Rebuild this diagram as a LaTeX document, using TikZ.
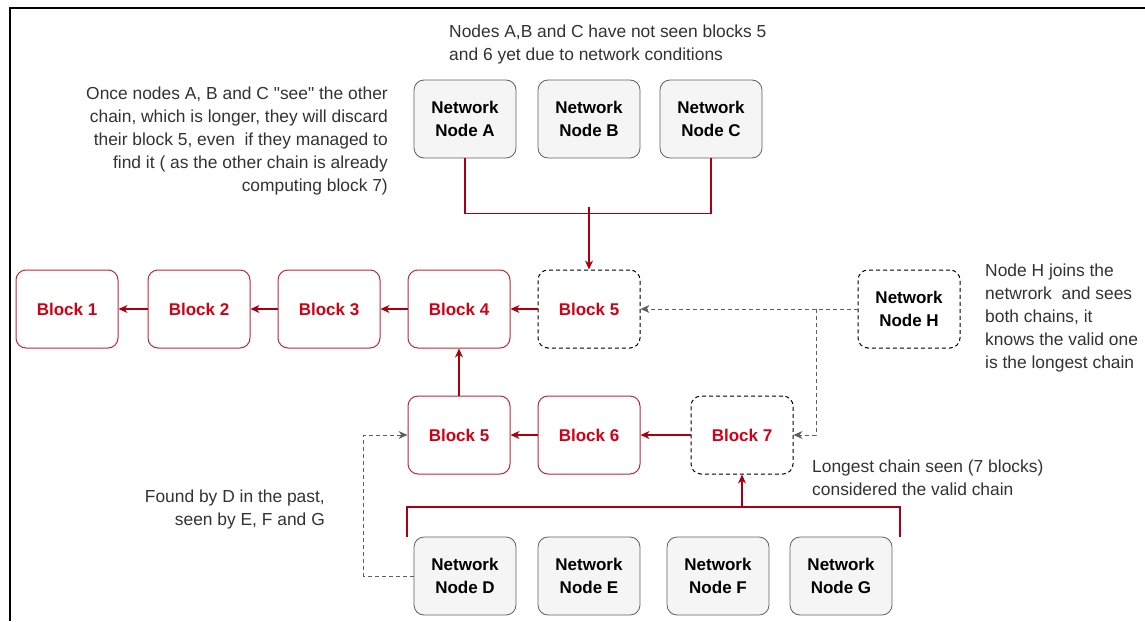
\documentclass[tikz,border=0pt]{standalone}
\usepackage{fontspec}
\setmainfont{Liberation Sans}
\usetikzlibrary{arrows.meta}
\definecolor{chainred}{RGB}{210,0,20}
\definecolor{boxred}{RGB}{190,40,55}
\definecolor{nodegray}{RGB}{245,245,245}
\definecolor{edgegray}{RGB}{95,95,95}
\definecolor{notegray}{RGB}{50,50,50}

\begin{document}
\begin{tikzpicture}[
        x=1pt, y=-1pt,
        cell/.style={rounded corners=10pt, minimum width=102pt, minimum height=78pt, align=center, inner sep=2pt, font=\fontsize{17}{23}\selectfont\bfseries},
        netnode/.style={cell, draw=edgegray, fill=nodegray, text=black, line width=0.8pt},
        block/.style={cell, draw=boxred, fill=white, text=chainred, line width=1pt},
        pending/.style={cell, draw=black, dash pattern=on 4pt off 3pt, line width=1pt, fill=white},
        note/.style={inner sep=0pt, text=notegray, font=\fontsize{17.4}{23}\selectfont},
        wire/.style={draw=chainred!80!black, line width=1.3pt},
        link/.style={wire, -{Stealth[length=9pt,width=8pt]}},
        ghost/.style={draw=edgegray, dash pattern=on 4pt off 3pt, line width=1pt, -{Stealth[length=9pt,width=8pt]}}
    ]
        \useasboundingbox (0,0) rectangle (1145,621);
        \draw[line width=1.5pt] (10,621) -- (10,8) -- (1145,8);

        % Nodes that have not seen the long chain
        \node[netnode] (nodeA) at (465,119) {Network\\Node A};
        \node[netnode] (nodeB) at (589,119) {Network\\Node B};
        \node[netnode] (nodeC) at (711,119) {Network\\Node C};

        % Short chain
        \node[block] (blk1) at (67,309) {Block 1};
        \node[block] (blk2) at (199,309) {Block 2};
        \node[block] (blk3) at (329,309) {Block 3};
        \node[block] (blk4) at (459,309) {Block 4};
        \node[pending, text=chainred] (blk5a) at (589,309) {Block 5};
        \node[pending, text=black] (nodeH) at (909,309) {Network\\Node H};

        % Long chain
        \node[block] (blk5b) at (459,435) {Block 5};
        \node[block] (blk6) at (589,435) {Block 6};
        \node[pending, text=chainred] (blk7) at (742,435) {Block 7};

        % Nodes that have seen the long chain
        \node[netnode] (nodeD) at (465,576) {Network\\Node D};
        \node[netnode] (nodeE) at (589,576) {Network\\Node E};
        \node[netnode] (nodeF) at (718,576) {Network\\Node F};
        \node[netnode] (nodeG) at (841,576) {Network\\Node G};

        % Notes
        \node[note, anchor=north west, align=left] (noteABC) at (449,25) {Nodes A,B and C have not seen blocks 5\\and 6 yet due to network conditions};
        \node[note, anchor=north east, align=right] (noteDiscard) at (388,87) {Once nodes A, B and C \textquotedbl see\textquotedbl\ the other\\chain, which is longer, they will discard\\their block 5, even\ \ if they managed to\\find it ( as the other chain is already\\computing block 7)};
        \node[note, anchor=north west, align=left] (noteH) at (985,264) {Node H joins the\\netwrork\ \ and sees\\both chains, it\\knows the valid one\\is the longest chain};
        \node[note, anchor=north west, align=left] (noteLong) at (812,460) {Longest chain seen (7 blocks)\\considered the valid chain};
        \node[note, anchor=north east, align=right] (noteFound) at (325,490) {Found by D in the past,\\seen by E, F and G};

        % Transitions
        \coordinate (abcjoin) at (589,207);
        \coordinate (hsplit) at (816,309);
        \coordinate (barL) at (407,507);
        \coordinate (barR) at (900,507);

        \draw[wire] (nodeA.south) -- ++(0,55) -| (nodeC.south);
        \draw[link] (abcjoin) -- (blk5a.north);
        \draw[link] (blk5a.west) -- (blk4.east);
        \draw[link] (blk4.west) -- (blk3.east);
        \draw[link] (blk3.west) -- (blk2.east);
        \draw[link] (blk2.west) -- (blk1.east);
        \draw[link] (blk5b.north) -- (blk4.south);
        \draw[link] (blk6.west) -- (blk5b.east);
        \draw[link] (blk7.west) -- (blk6.east);
        \draw[wire] (barL |- nodeD.north) -- (barL) -- (barR) -- (barR |- nodeD.north);
        \draw[link] (barL -| blk7) -- (blk7.south);

        \draw[ghost] (nodeH.west) -- (blk5a.east);
        \draw[ghost] (hsplit) |- (blk7.east);
        \draw[ghost] (nodeD.west) -- ++(-50,0) |- (blk5b.west);
    \end{tikzpicture}
\end{document}
